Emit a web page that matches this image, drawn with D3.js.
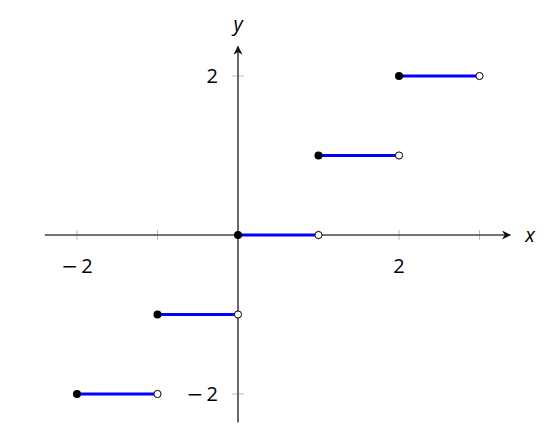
<!DOCTYPE html>
<html>
<head>
<meta charset="utf-8">
<script src="https://cdn.jsdelivr.net/npm/d3@7"></script>
<style>
  body { margin: 0; background: #fff; }
  text { font-family: "Open Sans", "DejaVu Sans", sans-serif; }
  .minus { font-family: "DejaVu Sans", sans-serif; }
</style>
</head>
<body>
<svg id="chart" width="550" height="442"></svg>
<script>
// step pieces of floor(x): [start, end, value]
const starts = [-2, -1, 0, 1, 2];
const ends = [-1, 0, 1, 2, 3];
const values = [-2, -1, 0, 1, 2];
const xTicks = [-2, -1, 1, 2, 3];
const yTicks = [-2, 2];
const xLabels = [-2, 2];
const yLabels = [-2, 2];

const svg = d3.select("#chart");

// Scales (origin at 238,235)
const x = d3.scaleLinear().domain([0, 2]).range([238, 399]);
const y = d3.scaleLinear().domain([0, 2]).range([235, 76]);

const xMin = -2.4, xMax = 3.38;
const yMin = -2.36, yMax = 2.37;

// arrowhead
svg.append("defs").append("marker")
	.attr("id", "arrow")
	.attr("viewBox", "0 0 10 10")
	.attr("refX", 9)
	.attr("refY", 5)
	.attr("markerWidth", 9)
	.attr("markerHeight", 9)
	.attr("markerUnits", "userSpaceOnUse")
	.attr("orient", "auto")
	.append("path")
	.attr("d", "M0,0 L10,5 L0,10 L3,5 Z")
	.attr("fill", "#111");

// ticks
svg.selectAll(".xtick").data(xTicks).enter().append("line")
	.attr("x1", (d) => x(d)).attr("x2", (d) => x(d))
	.attr("y1", y(0) - 5).attr("y2", y(0) + 5)
	.attr("stroke", "#bbb").attr("stroke-width", 1);

svg.selectAll(".ytick").data(yTicks).enter().append("line")
	.attr("y1", (d) => y(d)).attr("y2", (d) => y(d))
	.attr("x1", x(0) - 6).attr("x2", x(0) + 6)
	.attr("stroke", "#bbb").attr("stroke-width", 1);

// axes
svg.append("line")
	.attr("x1", x(xMin)).attr("x2", x(xMax))
	.attr("y1", y(0)).attr("y2", y(0))
	.attr("stroke", "#444").attr("stroke-width", 1.6)
	.attr("marker-end", "url(#arrow)");

svg.append("line")
	.attr("x1", x(0)).attr("x2", x(0))
	.attr("y1", y(yMin)).attr("y2", y(yMax))
	.attr("stroke", "#444").attr("stroke-width", 1.6)
	.attr("marker-end", "url(#arrow)");

// tick labels: wide math minus in its own tspan
function label(sel) {
	sel.each(function (d) {
		const t = d3.select(this);
		if (d < 0) t.append("tspan").attr("class", "minus").text("\u2212");
		t.append("tspan").text((d < 0 ? "\u2009" : "") + Math.abs(d));
	});
}

svg.selectAll(".xlab").data(xLabels).enter().append("text")
	.attr("x", (d) => x(d))
	.attr("y", y(0) + 38)
	.attr("text-anchor", "middle")
	.attr("font-size", 20)
	.attr("fill", "#000")
	.call(label);

svg.selectAll(".ylab").data(yLabels).enter().append("text")
	.attr("x", x(0) - 20)
	.attr("y", (d) => y(d))
	.attr("dy", "0.35em")
	.attr("text-anchor", "end")
	.attr("font-size", 20)
	.attr("fill", "#000")
	.call(label);

// axis names
svg.append("text")
	.attr("x", x(xMax) + 20).attr("y", y(0))
	.attr("dy", "0.35em")
	.attr("font-size", 20).attr("font-style", "italic")
	.attr("text-anchor", "middle")
	.text("x");

svg.append("text")
	.attr("x", x(0)).attr("y", y(yMax) - 16)
	.attr("font-size", 20).attr("font-style", "italic")
	.attr("text-anchor", "middle")
	.text("y");

// steps
const pieces = values.map((v, i) => ({ a: starts[i], b: ends[i], v }));

svg.selectAll(".step").data(pieces).enter().append("line")
	.attr("x1", (d) => x(d.a)).attr("x2", (d) => x(d.b))
	.attr("y1", (d) => y(d.v)).attr("y2", (d) => y(d.v))
	.attr("stroke", "#0000ff").attr("stroke-width", 3);

svg.selectAll(".open").data(pieces).enter().append("circle")
	.attr("cx", (d) => x(d.b)).attr("cy", (d) => y(d.v))
	.attr("r", 3.6)
	.attr("fill", "#fff").attr("stroke", "#000").attr("stroke-width", 1);

svg.selectAll(".closed").data(pieces).enter().append("circle")
	.attr("cx", (d) => x(d.a)).attr("cy", (d) => y(d.v))
	.attr("r", 4)
	.attr("fill", "#000");
</script>
</body>
</html>
